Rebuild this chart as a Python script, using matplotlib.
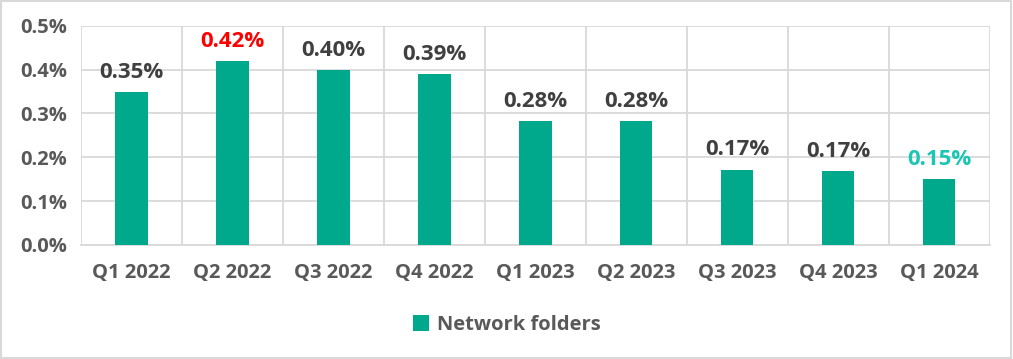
import matplotlib
matplotlib.use("Agg")
import matplotlib.pyplot as plt
from matplotlib.patches import Rectangle
from matplotlib.ticker import FuncFormatter

categories = ["Q1 2022", "Q2 2022", "Q3 2022", "Q4 2022", "Q1 2023",
              "Q2 2023", "Q3 2023", "Q4 2023", "Q1 2024"]
values = [0.35, 0.42, 0.40, 0.39, 0.283, 0.283, 0.172, 0.168, 0.15]
labels = ["0.35%", "0.42%", "0.40%", "0.39%", "0.28%", "0.28%", "0.17%", "0.17%", "0.15%"]
label_colors = ["#404040", "#FF0000", "#404040", "#404040", "#404040",
                "#404040", "#404040", "#404040", "#1BC6B4"]
series_name = "Network folders"

plt.rcParams['font.family'] = ['Open Sans', 'DejaVu Sans']

fig = plt.figure(figsize=(10.13, 3.59), dpi=100)
ax = fig.add_axes([0.080, 0.318, 0.897, 0.610])

x = list(range(len(categories)))
bar_color = "#00A88C"
ax.bar(x, values, width=0.32, color=bar_color, zorder=3, label=series_name)

ax.set_xlim(-0.5, len(categories) - 0.5)
ax.set_ylim(0, 0.5)
ax.set_yticks([0, 0.1, 0.2, 0.3, 0.4, 0.5])
ax.yaxis.set_major_formatter(FuncFormatter(lambda v, p: f"{v:.1f}%"))
ax.set_xticks(x)
ax.set_xticklabels(categories)
ax.set_xticks([i + 0.5 for i in range(-1, len(categories))], minor=True)

ax.grid(axis='y', which='major', color="#D9D9D9", linewidth=1.3, zorder=0)
ax.grid(axis='x', which='minor', color="#D9D9D9", linewidth=1.3, zorder=0)
ax.tick_params(axis='both', which='both', length=0)
ax.tick_params(axis='y', pad=10, labelsize=14.5, labelcolor="#595959")
ax.tick_params(axis='x', pad=13, labelsize=14.5, labelcolor="#595959")
for lab in ax.get_xticklabels() + ax.get_yticklabels():
    lab.set_fontweight('bold')
for s in ax.spines.values():
    s.set_visible(False)
ax.spines['bottom'].set_visible(True)
ax.spines['bottom'].set_color("#D9D9D9")
ax.spines['bottom'].set_linewidth(1.3)

for xi, v, t, c in zip(x, values, labels, label_colors):
    ax.annotate(t, (xi, v), xytext=(0, 6.5), textcoords="offset points",
                ha='center', va='bottom', fontsize=16, fontweight='bold', color=c)

leg = fig.legend(loc='center', bbox_to_anchor=(0.5, 0.095), frameon=False,
                 handlelength=0.8, handleheight=0.8, handletextpad=0.4,
                 prop={'weight': 'bold', 'size': 14.5})
for t in leg.get_texts():
    t.set_color("#595959")

fig.patches.append(Rectangle((0.001, 0.003), 0.997, 0.994, transform=fig.transFigure,
                             fill=False, edgecolor="#D9D9D9", linewidth=1.5))

fig.savefig("out.png", dpi=100, facecolor="white")
